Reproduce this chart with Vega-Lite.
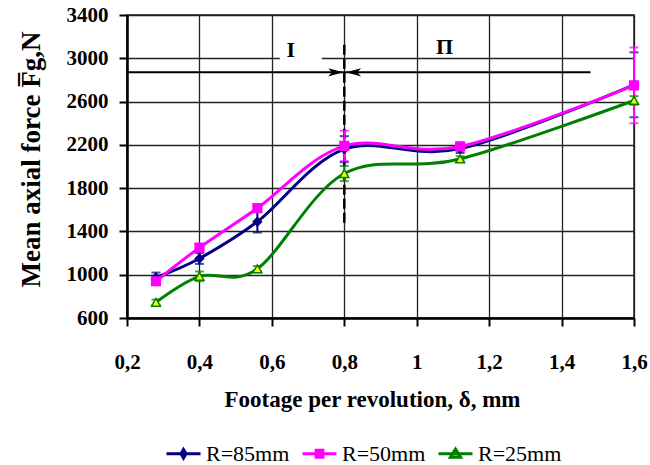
{
  "$schema": "https://vega.github.io/schema/vega-lite/v6.json",
  "width": 507,
  "height": 303,
  "autosize": {"type": "none"},
  "padding": {"left": 127, "top": 15, "right": 16, "bottom": 147},
  "background": "white",
  "config": {
    "font": "Liberation Serif",
    "view": {"stroke": "#222", "strokeWidth": 1.5},
    "legend": {"labelFont": "Liberation Serif, serif", "labelFontSize": 22, "labelColor": "black"},
    "axis": {
      "labelColor": "black",
      "labelFont": "Liberation Serif",
      "labelFontWeight": "bold",
      "labelFontSize": 21,
      "tickColor": "black",
      "tickWidth": 2,
      "tickSize": 8,
      "domainColor": "black",
      "domainWidth": 2.5,
      "grid": true,
      "gridColor": "#222",
      "gridWidth": 1.3,
      "gridOpacity": 1,
      "titleColor": "black",
      "titleFont": "Liberation Serif",
      "titleFontWeight": "bold",
      "labelFlush": false,
      "labelOverlap": false
    }
  },
  "datasets": {
    "series": [
      {"x": 0.28, "y": 975, "err": 45, "series": "R=85mm"},
      {"x": 0.4, "y": 1150, "err": 50, "series": "R=85mm"},
      {"x": 0.56, "y": 1490, "err": 100, "series": "R=85mm"},
      {"x": 0.8, "y": 2160, "err": 120, "series": "R=85mm"},
      {"x": 1.12, "y": 2165, "err": 40, "series": "R=85mm"},
      {"x": 1.6, "y": 2755, "err": 300, "series": "R=85mm"},
      {"x": 0.28, "y": 940, "err": 30, "series": "R=50mm"},
      {"x": 0.4, "y": 1250, "err": 20, "series": "R=50mm"},
      {"x": 0.56, "y": 1615, "err": 20, "series": "R=50mm"},
      {"x": 0.8, "y": 2190, "err": 140, "series": "R=50mm"},
      {"x": 1.12, "y": 2185, "err": 40, "series": "R=50mm"},
      {"x": 1.6, "y": 2750, "err": 350, "series": "R=50mm"},
      {"x": 0.28, "y": 745, "err": 25, "series": "R=25mm"},
      {"x": 0.4, "y": 985, "err": 45, "series": "R=25mm"},
      {"x": 0.56, "y": 1055, "err": 25, "series": "R=25mm"},
      {"x": 0.8, "y": 1935, "err": 70, "series": "R=25mm"},
      {"x": 1.12, "y": 2070, "err": 25, "series": "R=25mm"},
      {"x": 1.6, "y": 2610, "err": 40, "series": "R=25mm"}
    ],
    "arrowline": [{"x": 0.2, "x2": 1.48, "y": 2870}],
    "divider": [{"x": 0.8, "y": 1480, "y2": 3140}],
    "gap": [{"x": 0.622, "x2": 0.738, "y": 2975, "y2": 3150}],
    "labels": [{"x": 0.652, "y": 3077, "text": "I"}, {"x": 1.077, "y": 3100, "text": "Π"}],
    "arrowR": [{"x": 0.797, "y": 2870}],
    "arrowL": [{"x": 0.805, "y": 2870}]
  },
  "encoding": {
    "x": {
      "field": "x",
      "type": "quantitative",
      "scale": {"domain": [0.2, 1.6], "nice": false, "zero": false},
      "axis": {
        "values": [0.2, 0.4, 0.6, 0.8, 1.0, 1.2, 1.4, 1.6],
        "labelExpr": "replace(format(datum.value, '~g'), '.', ',')",
        "labelPadding": 25,
        "title": "Footage per revolution, δ, mm",
        "titleFontSize": 23,
        "titleX": 245,
        "titleY": 88,
        "titleBaseline": "alphabetic",
        "titleAlign": "center"
      }
    },
    "y": {
      "field": "y",
      "type": "quantitative",
      "scale": {"domain": [600, 3400], "nice": false, "zero": false},
      "axis": {
        "values": [600, 1000, 1400, 1800, 2200, 2600, 3000, 3400],
        "format": "d",
        "labelPadding": 11,
        "title": "Mean axial force F\u0305g,N",
        "titleFontSize": 27,
        "titleAngle": 270,
        "titleX": -96,
        "titleY": 144,
        "titleAlign": "center",
        "titleBaseline": "middle"
      }
    }
  },
  "layer": [
    {
      "data": {"name": "gap"},
      "mark": {"type": "rect", "fill": "white"},
      "encoding": {"x2": {"field": "x2"}, "y2": {"field": "y2"}}
    },
    {
      "data": {"name": "arrowline"},
      "mark": {"type": "rule", "color": "black", "strokeWidth": 2},
      "encoding": {"x2": {"field": "x2"}}
    },
    {
      "data": {"name": "divider"},
      "mark": {"type": "rule", "color": "black", "strokeWidth": 2.5, "strokeDash": [10, 4]},
      "encoding": {"y2": {"field": "y2"}}
    },
    {
      "data": {"name": "series"},
      "mark": {"type": "line", "interpolate": "cardinal", "strokeWidth": 3},
      "encoding": {
        "color": {
          "field": "series",
          "type": "nominal",
          "sort": ["R=85mm", "R=50mm", "R=25mm"],
          "scale": {"domain": ["R=85mm", "R=50mm", "R=25mm"], "range": ["#000080", "#FF00FF", "#008000"]},
          "legend": {
            "orient": "none",
            "legendX": 38,
            "legendY": 420,
            "direction": "horizontal",
            "title": null,
            "padding": 0,
            "labelFont": "Liberation Serif, serif",
            "labelFontSize": 22,
            "labelColor": "black",
            "labelOffset": 4,
            "columnPadding": 6,
            "symbolSize": 1156,
            "symbolStrokeWidth": 3,
            "encode": {
              "labels": {
                "update": {
                  "font": {"value": "Liberation Serif, serif"},
                  "fontSize": {"value": 22},
                  "fill": {"value": "black"}
                }
              },
              "symbols": {
                "update": {
                  "shape": {"signal": "datum.value === 'R=25mm' ? 'M-1,0L1,0M0,-0.28L0.3,0.2L-0.3,0.2Z' : datum.value === 'R=50mm' ? 'M-1,0L1,0M-0.2,-0.2L0.2,-0.2L0.2,0.2L-0.2,0.2Z' : 'M-1,0L1,0M0,-0.25L0.15,0L0,0.25L-0.15,0Z'"},
                  "fill": {"signal": "datum.value === 'R=25mm' ? '#FFFF00' : datum.value === 'R=50mm' ? '#FF00FF' : '#000080'"},
                  "stroke": {"signal": "datum.value === 'R=25mm' ? '#008000' : datum.value === 'R=50mm' ? '#FF00FF' : '#000080'"},
                  "strokeWidth": {"value": 3},
                  "size": {"value": 1156},
                  "opacity": {"value": 1},
                  "fillOpacity": {"value": 1},
                  "strokeOpacity": {"value": 1}
                }
              }
            }
          }
        }
      }
    },
    {
      "data": {"name": "series"},
      "transform": [{"filter": "datum.series === 'R=85mm'"}],
      "mark": {"type": "errorbar", "ticks": true, "size": 9, "thickness": 2, "color": "#000080"},
      "encoding": {"yError": {"field": "err"}}
    },
    {
      "data": {"name": "series"},
      "transform": [{"filter": "datum.series === 'R=50mm'"}],
      "mark": {"type": "errorbar", "ticks": true, "size": 9, "thickness": 2, "color": "#FF00FF"},
      "encoding": {"yError": {"field": "err"}}
    },
    {
      "data": {"name": "series"},
      "transform": [{"filter": "datum.series === 'R=25mm'"}],
      "mark": {"type": "errorbar", "ticks": true, "size": 9, "thickness": 2, "color": "#008000"},
      "encoding": {"yError": {"field": "err"}}
    },
    {
      "data": {"name": "series"},
      "mark": {"type": "point", "filled": true, "opacity": 1, "strokeWidth": 1.5},
      "encoding": {
        "shape": {
          "field": "series",
          "type": "nominal",
          "scale": {"domain": ["R=25mm", "R=50mm", "R=85mm"], "range": ["triangle-up", "square", "diamond"]},
          "legend": null
        },
        "fill": {
          "field": "series",
          "type": "nominal",
          "scale": {"domain": ["R=25mm", "R=50mm", "R=85mm"], "range": ["#FFFF00", "#FF00FF", "#000080"]},
          "legend": null
        },
        "stroke": {
          "field": "series",
          "type": "nominal",
          "scale": {"domain": ["R=25mm", "R=50mm", "R=85mm"], "range": ["#008000", "#FF00FF", "#000080"]},
          "legend": null
        },
        "size": {
          "field": "series",
          "type": "nominal",
          "scale": {"domain": ["R=25mm", "R=50mm", "R=85mm"], "range": [80, 70, 40]},
          "legend": null
        }
      }
    },
    {
      "data": {"name": "arrowR"},
      "mark": {"type": "point", "shape": "M0,0L-1,-0.27L-0.75,0L-1,0.27Z", "size": 900, "filled": true, "color": "black", "opacity": 1}
    },
    {
      "data": {"name": "arrowL"},
      "mark": {"type": "point", "shape": "M0,0L1,-0.27L0.75,0L1,0.27Z", "size": 900, "filled": true, "color": "black", "opacity": 1}
    },
    {
      "data": {"name": "labels"},
      "mark": {"type": "text", "font": "Liberation Serif", "fontWeight": "bold", "fontSize": 22, "color": "black", "align": "center", "baseline": "middle"},
      "encoding": {"text": {"field": "text"}}
    }
  ]
}
